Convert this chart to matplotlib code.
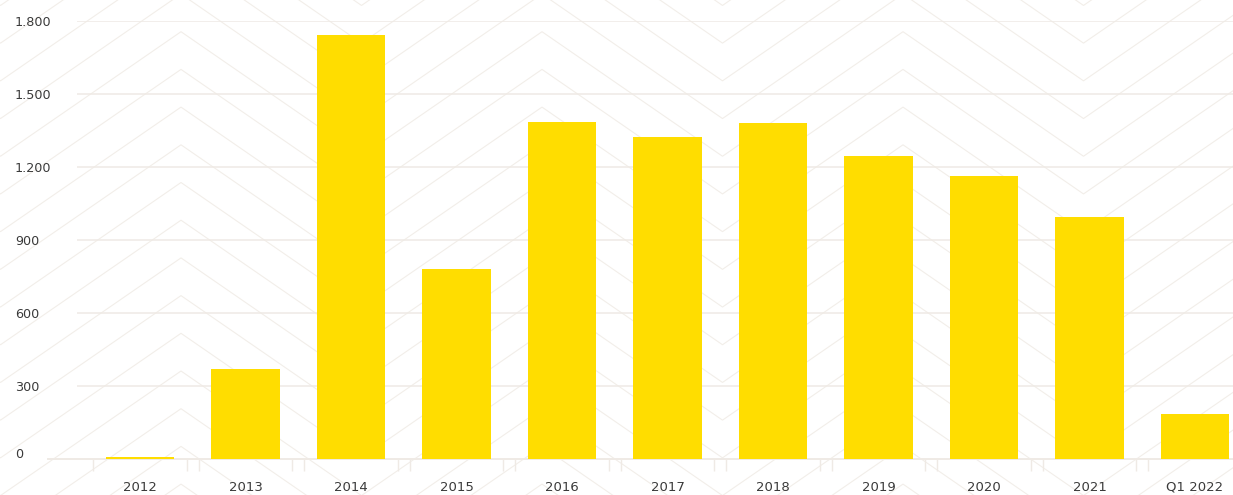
import numpy as np
import matplotlib
matplotlib.use("Agg")
import matplotlib.pyplot as plt
import matplotlib.transforms as mtransforms
from matplotlib.ticker import FixedLocator, FixedFormatter

# ---- data ----
categories = ["2012", "2013", "2014", "2015", "2016", "2017", "2018",
              "2019", "2020", "2021", "Q1 2022"]
values = [10, 370, 1743, 781, 1385, 1323, 1381, 1245, 1163, 995, 185]
ytick_values = [0, 300, 600, 900, 1200, 1500, 1800]
ytick_labels = ["0", "300", "600", "900", "1.200", "1.500", "1.800"]

# ---- style ----
W, H, DPI = 1233, 495, 100
BAR_COLOR = "#FFDD00"
GRID_COLOR = "#EFEAE5"
PATTERN_COLOR = "#F2EEE9"
TEXT_COLOR = "#3A3A3A"

plt.rcParams["font.family"] = ["DejaVu Sans"]

fig = plt.figure(figsize=(W / DPI, H / DPI), dpi=DPI)
fig.patch.set_facecolor("white")

# ---- decorative zigzag background (figure pixel space) ----
bg = fig.add_axes([0, 0, 1, 1], zorder=0)
bg.set_xlim(0, W)
bg.set_ylim(H, 0)
bg.axis("off")
period = 361.0
peak_x0 = 181.0
slope = 0.69
amp = slope * period / 2
spacing = 37.7
peak_y0 = 31.7
xs = np.arange(peak_x0 - 2 * period, W + period, period / 2)
for k in range(-8, 16):
    ys = []
    for j, xv in enumerate(xs):
        is_peak = (j % 2 == 0)
        ys.append(peak_y0 + k * spacing + (0 if is_peak else amp))
    bg.plot(xs, ys, color=PATTERN_COLOR, lw=0.8, solid_joinstyle="miter")

# ---- main axes ----
left_px, right_px, bottom_px, top_px = 77, 1233, 459, 21
ax = fig.add_axes([left_px / W, (H - bottom_px) / H,
                   (right_px - left_px) / W, (bottom_px - top_px) / H], zorder=1)
ax.patch.set_alpha(0)

x = np.arange(len(categories))
ax.bar(x, values, width=0.645, color=BAR_COLOR, zorder=3, linewidth=0)

cat_px = 105.5
first_center_px = 140
ax.set_xlim((left_px - first_center_px) / cat_px, (right_px - first_center_px) / cat_px)
ax.set_ylim(0, 1800)

for s in ax.spines.values():
    s.set_visible(False)

# gridlines
ax.set_yticks(ytick_values)
ax.set_yticklabels(ytick_labels)
ax.yaxis.grid(True, color=GRID_COLOR, linewidth=1.1, zorder=1)
ax.set_axisbelow(True)

# baseline
ax.axhline(0, xmin=-(left_px - 48) / (right_px - left_px), xmax=1, color=GRID_COLOR,
           linewidth=1.4, clip_on=False, zorder=2)

# y tick labels: left aligned at x~15px
ax.tick_params(axis="y", length=0, pad=(left_px - 15) * 72 / DPI,
               labelsize=9.2, labelcolor=TEXT_COLOR)
ylabs = ax.get_yticklabels()
for lab in ylabs:
    lab.set_horizontalalignment("left")
# the "0" label sits slightly above the baseline
ylabs[0].set_transform(ylabs[0].get_transform() +
                       mtransforms.ScaledTranslation(0, 6 / DPI, fig.dpi_scale_trans))

# x ticks: labels at centers, paired boundary ticks as minor ticks
ax.xaxis.set_major_locator(FixedLocator(x))
ax.xaxis.set_major_formatter(FixedFormatter(categories))
minor = np.sort(np.concatenate([x - 0.445, x + 0.445]))
ax.xaxis.set_minor_locator(FixedLocator(minor))
ax.tick_params(axis="x", which="major", length=0, pad=15.5, labelsize=9.5,
               labelcolor=TEXT_COLOR)
ax.tick_params(axis="x", which="minor", length=12 * 72 / DPI, width=1.0,
               color=GRID_COLOR, direction="out")

fig.savefig("out.png", dpi=DPI, facecolor="white")
